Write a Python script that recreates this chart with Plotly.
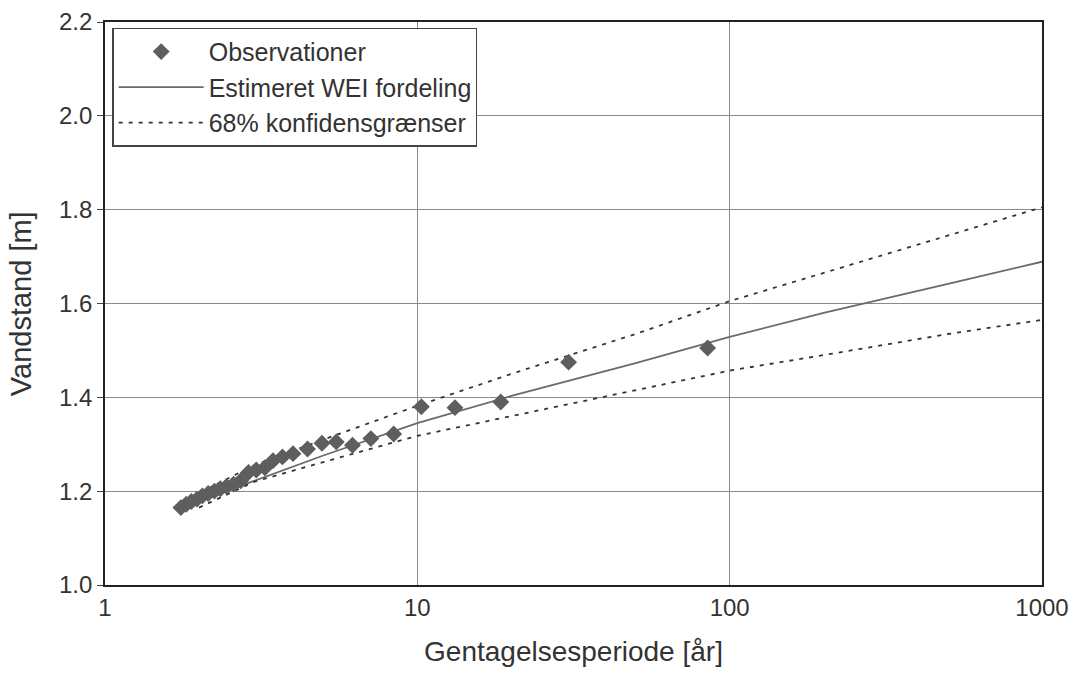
import plotly.graph_objects as go

# Observations (return period in years, water level in m)
obs_T = [85, 30.5, 18.5, 13.2, 10.3, 8.4, 7.1, 6.2, 5.5, 4.95, 4.45, 4.0, 3.7, 3.45,
         3.25, 3.05, 2.88, 2.72, 2.58, 2.45, 2.34, 2.24, 2.14, 2.05, 1.97, 1.89, 1.82, 1.75]
obs_y = [1.505, 1.475, 1.39, 1.378, 1.38, 1.322, 1.312, 1.298, 1.305, 1.302, 1.29, 1.28,
         1.273, 1.265, 1.25, 1.245, 1.24, 1.222, 1.215, 1.21, 1.205, 1.2, 1.195, 1.19,
         1.183, 1.178, 1.172, 1.165]

# Estimated WEI distribution
fit_T = [1.7, 2, 3, 5, 7, 10, 20, 50, 100, 200, 500, 1000]
fit_y = [1.16, 1.178, 1.222, 1.276, 1.310, 1.345, 1.403, 1.473, 1.529, 1.580, 1.642, 1.689]

# 68% confidence limits
ci_T = [2, 3, 5, 10, 20, 50, 100, 200, 500, 1000]
ci_upper = [1.196, 1.255, 1.31, 1.382, 1.45, 1.535, 1.605, 1.665, 1.745, 1.805]
ci_lower = [1.165, 1.22, 1.262, 1.318, 1.36, 1.415, 1.457, 1.49, 1.535, 1.565]

y_ticks = [1.0, 1.2, 1.4, 1.6, 1.8, 2.0, 2.2]
x_ticks = [1, 10, 100, 1000]

font = "Liberation Sans, Arial, sans-serif"

fig = go.Figure()
fig.add_trace(go.Scatter(x=fit_T, y=fit_y, mode="lines", name="Estimeret WEI fordeling",
                         line=dict(color="#6a6a6a", width=1.8), legendrank=2))
fig.add_trace(go.Scatter(x=ci_T, y=ci_upper, mode="lines", name="68% konfidensgrænser",
                         line=dict(color="#333333", width=1.8, dash="4px,6px"), legendrank=3))
fig.add_trace(go.Scatter(x=ci_T, y=ci_lower, mode="lines", showlegend=False,
                         line=dict(color="#333333", width=1.8, dash="4px,6px")))
fig.add_trace(go.Scatter(x=obs_T, y=obs_y, mode="markers", name="Observationer",
                         marker=dict(symbol="diamond", size=13, color="#5e5e5e",
                                     line=dict(width=0)), legendrank=1))

fig.update_layout(
    width=1074, height=681,
    margin=dict(l=105, r=32, t=22, b=96),
    paper_bgcolor="white", plot_bgcolor="white",
    font=dict(family=font, size=24, color="#333333"),
    showlegend=True,
    legend=dict(x=0.008, y=0.99, xanchor="left", yanchor="top",
                bgcolor="white", bordercolor="#444444", borderwidth=1.2,
                font=dict(size=25), itemwidth=85, tracegroupgap=0,
                traceorder="normal"),
    xaxis=dict(type="log", range=[0, 3], tickvals=x_ticks,
               ticktext=[str(v) for v in x_ticks],
               tickfont=dict(size=24), automargin=False,
               showgrid=True, gridcolor="#8a8a8a", gridwidth=1.2,
               showline=True, linecolor="#222222", linewidth=1.6, mirror=True,
               ticks="", zeroline=False,
               title=dict(text="Gentagelsesperiode [år]", standoff=22,
                          font=dict(size=28))),
    yaxis=dict(range=[1.0, 2.2], tickvals=y_ticks, tickformat=".1f",
               tickfont=dict(size=24), automargin=False,
               showgrid=True, gridcolor="#8a8a8a", gridwidth=1.2,
               showline=True, linecolor="#222222", linewidth=1.6, mirror=True,
               ticks="outside", ticklen=6, tickcolor="#444444", zeroline=False),
    annotations=[dict(text="Vandstand [m]", textangle=-90, xref="paper", yref="paper",
                      x=-0.09, y=0.5, xanchor="center", yanchor="middle",
                      showarrow=False, font=dict(size=29, color="#333333"))],
)

fig.write_html("out.html")
